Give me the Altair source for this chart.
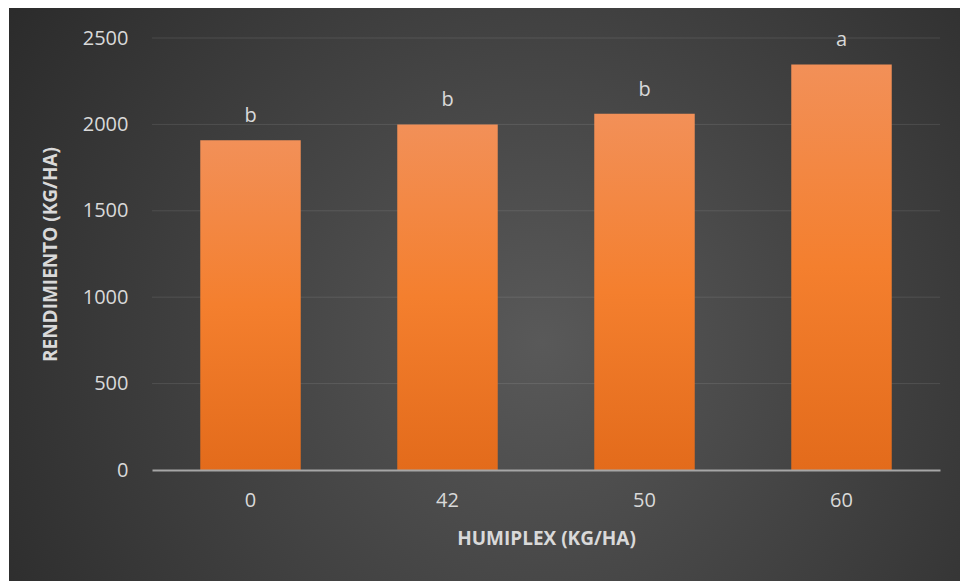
import altair as alt
import pandas as pd

# ---- data ----
categories = ["0", "42", "50", "60"]
values = [1908, 2000, 2062, 2347]
letters = ["b", "b", "b", "a"]
y_ticks = [0, 500, 1000, 1500, 2000, 2500]

df = pd.DataFrame({"dose": categories, "yield": values, "letter": letters})
grid_df = pd.DataFrame({"tick": y_ticks[1:]})
bg_df = pd.DataFrame({"k": [0]})

# ---- layout ----
W, H = 788, 432
PL, PT, PR, PB = 152, 38, 20, 111
FONT = "Open Sans"
TXT = "#d9d9d9"

x_scale = alt.Scale(domain=categories, paddingInner=0.49, paddingOuter=0.245)
y_scale = alt.Scale(domain=[0, 2500], nice=False, zero=True)

x_axis = alt.Axis(
    title="HUMIPLEX (KG/HA)", labelAngle=0, ticks=False, grid=False,
    labelPadding=20, labelFont=FONT, labelFontSize=20, labelColor=TXT,
    titleFont=FONT, titleFontSize=19, titleFontWeight="bold", titleColor=TXT,
    titlePadding=19, domainColor="#a6a6a6", domainWidth=2, zindex=1,
)
y_axis = alt.Axis(
    title="RENDIMIENTO (KG/HA)", values=y_ticks, format="d", ticks=False, grid=False,
    domain=False, labelPadding=24, labelFont=FONT, labelFontSize=20, labelColor=TXT,
    titleFont=FONT, titleFontSize=19, titleFontWeight="bold", titleColor=TXT,
    titlePadding=22, zindex=1,
)

bg = alt.Chart(bg_df).mark_rect(
    fill=alt.RadialGradient(
        gradient="radial",
        stops=[
            alt.GradientStop(offset=0, color="#595959"),
            alt.GradientStop(offset=1, color="#252525"),
        ],
        x1=0.56, y1=0.55, r1=0,
        x2=0.56, y2=0.55, r2=0.75,
    ),
    strokeWidth=0,
).encode(
    x=alt.value(9 - PL), x2=alt.value(960 - PL),
    y=alt.value(8 - PT), y2=alt.value(581 - PT),
)

grid = alt.Chart(grid_df).mark_rule(color="#ffffff", opacity=0.1, strokeWidth=1).encode(
    y=alt.Y("tick:Q", scale=y_scale, axis=y_axis),
    x=alt.value(0), x2=alt.value(W),
)

bars = alt.Chart(df).mark_bar(
    color=alt.LinearGradient(
        gradient="linear",
        stops=[
            alt.GradientStop(offset=0, color="#F29058"),
            alt.GradientStop(offset=0.5, color="#F47F2E"),
            alt.GradientStop(offset=1, color="#E36B1B"),
        ],
        x1=0, x2=0, y1=0, y2=1,
    ),
).encode(
    x=alt.X("dose:N", scale=x_scale, axis=x_axis, sort=categories),
    y=alt.Y("yield:Q", scale=y_scale, axis=y_axis),
)

labels = alt.Chart(df).mark_text(
    font=FONT, fontSize=20, color=TXT, baseline="alphabetic", dy=-18
).encode(
    x=alt.X("dose:N", scale=x_scale, axis=x_axis, sort=categories),
    y=alt.Y("yield:Q", scale=y_scale, axis=y_axis),
    text="letter:N",
)

chart = alt.layer(bg, grid, bars, labels).properties(
    width=W, height=H,
    autosize=alt.AutoSizeParams(type="none"),
    padding={"left": PL, "top": PT, "right": PR, "bottom": PB},
    background="white",
).configure_view(stroke=None)

chart.save("out.html", embed_options={"renderer": "svg", "actions": False})
